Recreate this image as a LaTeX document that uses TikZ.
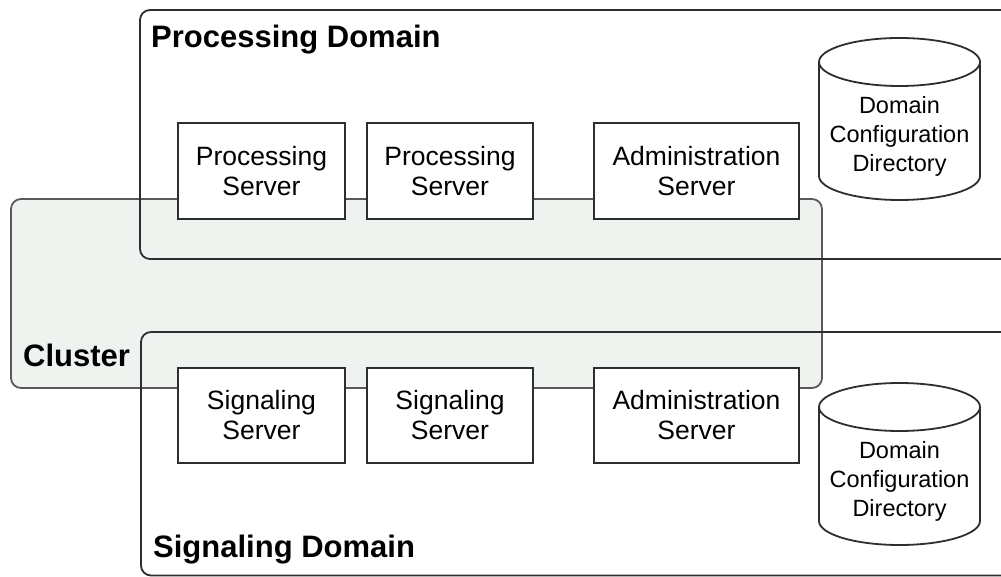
\documentclass[tikz,border=0pt]{standalone}
\usepackage{fontspec}
\setmainfont{Liberation Sans}
\definecolor{clusterfill}{HTML}{EFF3F0}
\definecolor{edgegray}{HTML}{2E2E2E}
\begin{document}
\begin{tikzpicture}[x=1pt, y=-1pt,
  line/.style={draw=edgegray, line width=1.8pt},
  server/.style={line, fill=white, align=center, inner sep=0pt,
    font=\fontsize{26.5}{30}\selectfont},
  heading/.style={anchor=base west, inner sep=0pt,
    font=\fontsize{31}{36}\selectfont\bfseries},
  dbtext/.style={align=center, inner sep=0pt,
    font=\fontsize{23.5}{29}\selectfont}]
  \useasboundingbox (0,0) rectangle (1001,577);
  \clip (0,0) rectangle (1001,577);
  % cluster
  \draw[line, draw=black!65, fill=clusterfill, rounded corners=10pt] (11,199) rectangle (822,388);
  % domains
  \draw[line, rounded corners=10pt] (140,10) rectangle (1030,259);
  \draw[line, rounded corners=10pt] (141,332) rectangle (1030,575.5);
  % servers
  \node[server, minimum width=167pt, minimum height=96pt] (procA) at (261.5,171) {Processing\\Server};
  \node[server, minimum width=166pt, minimum height=96pt] (procB) at (450,171) {Processing\\Server};
  \node[server, minimum width=205pt, minimum height=96pt] (adminP) at (696.5,171) {Administration\\Server};
  \node[server, minimum width=167pt, minimum height=95pt] (sigA) at (261.5,415.5) {Signaling\\Server};
  \node[server, minimum width=166pt, minimum height=95pt] (sigB) at (450,415.5) {Signaling\\Server};
  \node[server, minimum width=205pt, minimum height=95pt] (adminS) at (696.5,415.5) {Administration\\Server};
  % configuration directories
  \foreach \cy/\nm in {62/dirP, 407/dirS} {
    \draw[line, fill=white] (819,\cy) -- (819,{\cy+114})
      arc[start angle=180, end angle=0, x radius=80.5, y radius=24] -- (980,\cy);
    \draw[line] (899.5,\cy) ellipse [x radius=80.5, y radius=24];
    \node[dbtext] (\nm) at (899.5,{\cy+74}) {Domain\\Configuration\\Directory};
  }
  % labels
  \node[heading] (procDomain) at (151,48) {Processing Domain};
  \node[heading] (clusterLbl) at (23,366) {Cluster};
  \node[heading] (sigDomain) at (153,557) {Signaling Domain};
\end{tikzpicture}
\end{document}
